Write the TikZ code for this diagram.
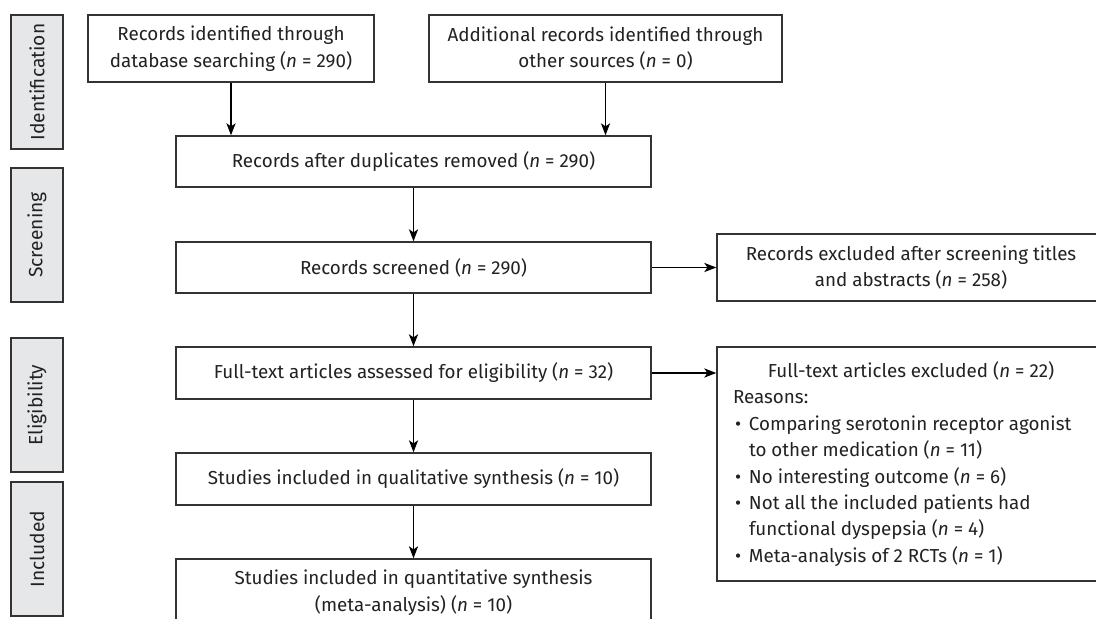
\documentclass[tikz,border=0pt]{standalone}
\usepackage{fontspec}
\setmainfont{Fira Sans}
\usepackage{xcolor}
\usetikzlibrary{arrows.meta}
\definecolor{phasegray}{HTML}{E6E7E8}
\definecolor{linegray}{HTML}{333333}
\definecolor{textgray}{HTML}{222222}
\newcommand{\drawPhase}[3]{
\node (#1) at (37,#2) [phase] {#3};
}
\newcommand{\reason}[1]{\par\noindent\hangindent=8pt\hangafter=1\makebox[8pt][l]{\hspace{1pt}\textbullet}#1}

\begin{document}
\begin{tikzpicture}[x=0.5pt,y=-0.5pt,>={Stealth[length=6pt,width=4.6pt,inset=1.6pt]},
  box/.style={draw=linegray,line width=0.75pt,fill=white,align=center,inner sep=0pt,text=textgray,font=\fontsize{9.4}{13.2}\selectfont},
  phase/.style={draw=linegray,line width=0.75pt,fill=phasegray,rotate=90,minimum width=67pt,minimum height=26pt,inner sep=0pt,text=textgray,font=\fontsize{9.6}{12}\selectfont},
  link/.style={->,line width=0.55pt,black}]
\useasboundingbox (0,0) rectangle (1096,619);
\clip (0,0) rectangle (1096,619);
\fill [white] (0,0) rectangle (1096,619);
%
\drawPhase{identification}{82}{Identification}
\drawPhase{screening}{235}{Screening}
\drawPhase{eligibility}{405}{Eligibility}
\drawPhase{included}{549}{Included}
%
\node (ident) at (231,48.5) [box,minimum width=143pt,minimum height=33.5pt] {Records identified through\\database searching (\textit{n} = 290)};
\node (other) at (605.5,48.5) [box,minimum width=176.5pt,minimum height=33.5pt] {Additional records identified through\\other sources (\textit{n} = 0)};
\node (dup) at (413.5,161.5) [box,minimum width=237.5pt,minimum height=25.5pt] {Records after duplicates removed (\textit{n} = 290)};
\node (screen) at (413.5,267.5) [box,minimum width=237.5pt,minimum height=25.5pt] {Records screened (\textit{n} = 290)};
\node (excl) at (911,267.5) [box,minimum width=194pt,minimum height=33.5pt] {Records excluded after screening titles\\and abstracts (\textit{n} = 258)};
\node (full) at (413.5,373) [box,minimum width=237.5pt,minimum height=26pt] {Full-text articles assessed for eligibility (\textit{n} = 32)};
\node (fexcl) at (911,464) [box,align=none,minimum width=194pt,minimum height=117pt,inner xsep=8pt,text width=178pt] {{\centering Full-text articles excluded (\textit{n} = 22)\par}\raggedright\noindent Reasons:
\reason{Comparing serotonin receptor agonist\newline to other medication (\textit{n} = 11)}
\reason{No interesting outcome (\textit{n} = 6)}
\reason{Not all the included patients had\newline functional dyspepsia (\textit{n} = 4)}
\reason{Meta-analysis of 2 RCTs (\textit{n} = 1)}};
\node (qual) at (413.5,479) [box,minimum width=237.5pt,minimum height=26pt] {Studies included in qualitative synthesis (\textit{n} = 10)};
\node (quant) at (413.5,592.5) [box,minimum width=237.5pt,minimum height=33.5pt] {Studies included in quantitative synthesis\\(meta-analysis) (\textit{n} = 10)};
%
\draw [link] (ident.south) -- (ident.south |- dup.north);
\draw [link] (other.south) -- (other.south |- dup.north);
\draw [link] (dup) -- (screen);
\draw [link] (screen) -- (excl);
\draw [link] (screen) -- (full);
\draw [link] (full.east) -- (full.east -| fexcl.west);
\draw [link] (full) -- (qual);
\draw [link] (qual) -- (quant);
\end{tikzpicture}
\end{document}
